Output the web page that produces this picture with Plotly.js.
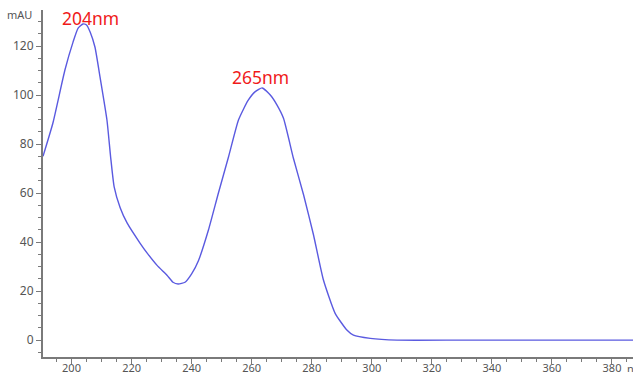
<!DOCTYPE html>
<html>
<head>
<meta charset="utf-8">
<script src="https://cdn.plot.ly/plotly-3.0.1.min.js"></script>
<style>html,body{margin:0;padding:0;background:#fff;}#chart{width:633px;height:372px;}</style>
</head>
<body>
<div id="chart"></div>
<script>
const wavelength = [190.5,193.8,197.8,200.5,202.2,203.8,205.0,206.2,207.8,209.5,211.8,213.0,214.2,216.2,218.5,222.8,225.2,228.5,231.8,233.8,235.5,237.8,240.0,242.3,245.6,248.9,252.3,255.6,258.8,261.2,263.5,266.2,268.4,270.6,273.9,277.3,280.6,283.9,287.8,291.7,293.9,299.5,308.4,330,360,387];
const absorbance = [75.0,88.6,110.2,121.6,127.3,129.0,128.6,125.7,119.6,107.3,89.8,75.0,62.5,54.0,47.8,39.6,35.5,30.5,26.5,23.6,22.9,23.6,27.0,32.5,44.9,59.9,74.8,89.8,97.8,101.4,102.9,100.0,96.0,90.5,74.2,59.2,42.9,24.5,10.9,4.1,2.0,0.7,0,0,0,0];
const peakLabels = ["204nm","265nm"];
const peakX = [206.2, 262.8];
const peakY = [131.4, 107.3];

const axisColor = "#7a7a7a";
const tickFont = {family: "Noto Sans, DejaVu Sans, sans-serif", size: 12, color: "#555"};

const annotations = peakLabels.map((t, i) => ({
  text: t, x: peakX[i], y: peakY[i], xref: "x", yref: "y",
  showarrow: false, xanchor: "center", yanchor: "middle",
  font: {family: "Noto Sans, Open Sans, sans-serif", size: 17.5, color: "#f01a1a"}
}));
annotations.push({text: "mAU", xref: "paper", yref: "paper", x: 0, y: 1, xshift: -9, yshift: -4,
  xanchor: "right", yanchor: "middle", showarrow: false,
  font: {family: "Noto Sans, DejaVu Sans, sans-serif", size: 11, color: "#555"}});
annotations.push({text: "nm", xref: "paper", yref: "paper", x: 1, y: 0, xshift: -8, yshift: -11,
  xanchor: "left", yanchor: "middle", showarrow: false,
  font: {family: "Noto Sans, DejaVu Sans, sans-serif", size: 11, color: "#555"}});

const trace = {
  x: wavelength, y: absorbance, type: "scatter", mode: "lines",
  line: {color: "#5a5ae0", width: 1.4, shape: "spline", smoothing: 0.5},
  hoverinfo: "skip"
};

const layout = {
  width: 633, height: 372,
  margin: {l: 43, r: 0, t: 10, b: 15},
  paper_bgcolor: "#fff", plot_bgcolor: "#fff",
  showlegend: false,
  xaxis: {
    range: [190.5, 387], tickmode: "linear", tick0: 200, dtick: 20,
    showgrid: false, zeroline: false, showline: true, linecolor: axisColor, linewidth: 2,
    ticks: "outside", ticklen: 5, tickwidth: 1, tickcolor: axisColor,
    minor: {dtick: 5, tick0: 200, ticklen: 3, tickcolor: axisColor, ticks: "outside", showgrid: false},
    tickfont: {family: tickFont.family, size: 11, color: tickFont.color}, ticklabelstandoff: -5
  },
  yaxis: {
    range: [-6.9, 134.7], tickmode: "linear", tick0: 0, dtick: 20,
    showgrid: false, zeroline: false, showline: true, linecolor: axisColor, linewidth: 2,
    ticks: "outside", ticklen: 5, tickwidth: 1, tickcolor: axisColor,
    minor: {dtick: 5, tick0: 0, ticklen: 3, tickcolor: axisColor, ticks: "outside", showgrid: false},
    tickfont: tickFont
  },
  annotations: annotations
};

Plotly.newPlot("chart", [trace], layout, {staticPlot: true, displayModeBar: false});
</script>
</body>
</html>
